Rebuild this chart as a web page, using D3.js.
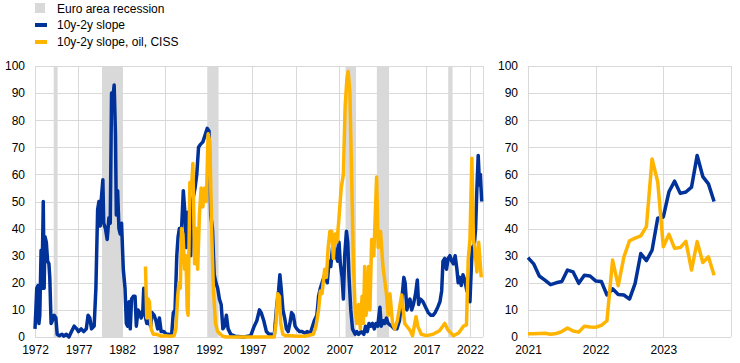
<!DOCTYPE html>
<meta charset="utf-8">
<style>
body { margin: 0; background: #fff; font-family: Arial, "Liberation Sans", sans-serif; }
svg { font-size: 12px; }
.grid line { stroke: #d9d9d9; stroke-width: 1; shape-rendering: crispEdges; }
.tick text { fill: #000; }
</style>
<body>
<svg width="740" height="363"></svg>
<script src="https://d3js.org/d3.v7.min.js"></script>
<script>
// long history (left panel), x in decimal years
var slopeYears = [1972.0,1972.1,1972.2,1972.35,1972.45,1972.55,1972.7,1972.8,1972.95,1973.05,1973.15,1973.3,1973.45,1973.6,1973.7,1973.85,1974.0,1974.2,1974.4,1974.55,1974.8,1975.1,1975.3,1975.6,1975.9,1976.2,1976.5,1976.8,1977.0,1977.3,1977.6,1977.9,1978.1,1978.3,1978.5,1978.8,1979.0,1979.2,1979.35,1979.5,1979.6,1979.8,1979.9,1980.1,1980.3,1980.5,1980.65,1980.8,1980.95,1981.1,1981.25,1981.35,1981.5,1981.65,1981.8,1981.95,1982.15,1982.35,1982.5,1982.65,1982.8,1982.95,1983.1,1983.3,1983.5,1983.65,1983.85,1984.0,1984.2,1984.4,1984.5,1984.65,1984.85,1985.0,1985.3,1985.45,1985.7,1985.9,1986.1,1986.3,1986.5,1986.8,1987.1,1987.4,1987.7,1987.9,1988.1,1988.3,1988.45,1988.6,1988.85,1989.05,1989.25,1989.4,1989.55,1989.7,1989.9,1990.1,1990.4,1990.6,1990.8,1991.0,1991.3,1991.6,1991.8,1992.0,1992.2,1992.4,1992.6,1992.8,1993.0,1993.2,1993.4,1993.6,1993.8,1994.0,1994.2,1994.5,1995.0,1996.0,1996.8,1997.2,1997.5,1997.8,1998.0,1998.3,1998.6,1998.9,1999.2,1999.5,1999.8,2000.0,2000.15,2000.3,2000.5,2000.7,2000.9,2001.1,2001.3,2001.5,2001.7,2001.9,2002.1,2002.4,2002.7,2003.0,2003.3,2003.6,2003.9,2004.1,2004.4,2004.6,2004.8,2005.0,2005.3,2005.6,2005.8,2006.0,2006.2,2006.4,2006.6,2006.8,2006.95,2007.1,2007.3,2007.45,2007.6,2007.8,2007.95,2008.1,2008.3,2008.5,2008.8,2009.0,2009.2,2009.5,2009.8,2010.0,2010.2,2010.4,2010.6,2010.8,2011.0,2011.2,2011.4,2011.65,2011.8,2012.0,2012.2,2012.4,2012.6,2012.8,2013.0,2013.3,2013.6,2013.9,2014.2,2014.4,2014.55,2014.75,2014.9,2015.1,2015.3,2015.5,2015.75,2015.95,2016.1,2016.3,2016.6,2016.9,2017.2,2017.5,2017.75,2018.0,2018.3,2018.55,2018.75,2018.9,2019.1,2019.3,2019.5,2019.7,2019.9,2020.1,2020.3,2020.5,2020.65,2020.85,2021.0,2021.2,2021.4,2021.65,2021.85,2022.0,2022.25,2022.5,2022.65,2022.8,2022.95,2023.1,2023.2,2023.35];
var slopeValues = [3,10,18,19,5,8,32,18,50,18,37,35,28,27,22,5,6,8,7,1,0.5,1,0.3,1,0,2,4,3,2,3,2,3,8,7,3,4,18,47,50,41,50,58,42,40,36,44,42,90,88,93,75,45,54,40,38,42,25,18,5,4,13,3,14,15,15,4,10,9,7,10,18,8,5,6,4,9,8,6,3,7,2,2,1,1,0.5,9,10,30,37,40,40,54,45,33,46,42,30,50,55,60,70,71,72,75,77,76,45,40,23,20,18,14,12,3,4,8,3,1,0.3,0,0.5,4,6,10,9,6,2,1,1,0.5,12,17,23,18,10,7,3,2,5,9,8,4,3,2,2,1.5,2,1,4,6,8,15,18,20,23,20,28,26,33,35,30,28,35,27,22,14,30,39,35,22,10,3,1,2,1,2,1,4,2,5,4,5,3,5,4,11,4,6,5,7,5,4.5,4,3,3,6,15,22,20,10,12,14,10,12,16,21,12,14,13,11,9,8,8,9,11,13,17,28,29,25,29,30,28,27,30,25,20,22,19,23,21,17,16,13,33,34,40,55,67,56,60,50];

var oilYears = [1984.7,1984.85,1985.0,1985.15,1985.35,1985.6,1986.0,1986.5,1987.0,1987.5,1988.0,1988.2,1988.4,1988.55,1988.7,1988.85,1989.0,1989.2,1989.35,1989.5,1989.6,1989.8,1990.0,1990.15,1990.35,1990.5,1990.7,1990.9,1991.1,1991.3,1991.5,1991.7,1991.9,1992.1,1992.3,1992.5,1992.75,1993.0,1993.3,1993.6,1994.0,1999.5,1999.7,1999.9,2000.1,2000.25,2000.5,2000.8,2001.5,2002.0,2003.0,2004.0,2004.3,2004.6,2004.8,2005.0,2005.3,2005.5,2005.7,2005.9,2006.1,2006.3,2006.5,2006.7,2006.9,2007.2,2007.45,2007.65,2007.85,2008.0,2008.2,2008.4,2008.6,2008.8,2009.0,2009.2,2009.4,2009.6,2009.75,2009.9,2010.05,2010.2,2010.35,2010.5,2010.7,2010.95,2011.27,2011.45,2011.72,2012.0,2012.4,2012.6,2012.8,2013.1,2013.35,2013.65,2014.15,2014.5,2015.1,2015.4,2015.8,2016.0,2016.4,2017.0,2017.75,2018.5,2019.1,2019.5,2020.1,2020.7,2021.25,2021.6,2021.8,2022.0,2022.22,2022.4,2022.55,2022.8,2023.0,2023.3];
var oilValues = [26,7,14,13,3,1,1,0.3,0.5,0.3,0.5,3,15,20,18,40,38,25,30,10,8,57,55,64,27,40,25,45,55,48,55,50,75,72,40,18,5,2,1,0.3,0,0,5,16,15,5,1,0.5,0.5,0.3,0.3,1,4,10,17,16,25,22,33,39,39,29,38,35,42,55,60,85,95,98,90,59,28,10,5,12,3,15,5,26,8,12,26,10,36,30,59,33,39,26,16,8,16,5,3,6,15.5,5,2.5,0.5,7.5,4,1,0.5,1,2.3,5,2.5,0.5,1.5,4,4.5,28.5,36,66,36,33,24,35,22];

var recessions = [[1974.15,1974.6],[1979.7,1982.05],[1991.8,1993.1],[2007.7,2008.9],[2011.3,2012.7],[2019.5,2020.0]];
var leftTicks = [1972,1977,1982,1987,1992,1997,2002,2007,2012,2017,2022];

// recent zoom (right panel), monthly from Jan 2021
var recentMonths = d3.range(34);
var recentSlope = [29.3,27,22.5,21,19.3,20,20.5,24.7,24,19.8,22.8,22.5,20.7,20.5,15.5,17.8,15.7,15.5,14,19.8,30.8,28.2,32,43.8,44.3,53.6,57.5,53,53.5,55.3,67,59.2,56.5,50];
var recentOil = [1.2,1.2,1.3,1.4,1.0,1.3,2.0,3.3,2.2,1.8,4.0,3.7,3.6,4.3,6.0,28.4,18.9,29.5,35.5,36.5,37.3,40.7,65.7,57.3,33.3,37.9,32.7,33,35.3,24.7,35.2,27.5,29.6,22.8];
var rightTicks = [0, 12, 24];
var rightTickLabels = ["2021", "2022", "2023"];

var seriesNames = ["Euro area recession", "10y-2y slope", "10y-2y slope, oil, CISS"];
var BLUE = "#003299", ORANGE = "#ffb400", GREY = "#d9d9d9";
var LW = 3.5;

var svg = d3.select("svg");

var y = d3.scaleLinear().domain([0, 100]).range([337, 66]);
var xL = d3.scaleLinear().domain([1972, 2023.5]).range([35, 483]);
var xR = d3.scaleLinear().domain([0, 36]).range([528, 731]);

function panel(x, xTicks, xFormat) {
    var g = svg.append("g");
    var grid = g.append("g").attr("class", "grid");
    grid.selectAll(".h").data(d3.range(0, 101, 10)).enter().append("line")
        .attr("x1", x.range()[0]).attr("x2", x.range()[1])
        .attr("y1", function(d) { return Math.round(y(d)) + 0.5; })
        .attr("y2", function(d) { return Math.round(y(d)) + 0.5; });
    grid.selectAll(".v").data(xTicks.concat([x.domain()[1]])).enter().append("line")
        .attr("x1", function(d) { return Math.round(x(d)) + 0.5; })
        .attr("x2", function(d) { return Math.round(x(d)) + 0.5; })
        .attr("y1", y(100)).attr("y2", y(0));

    g.append("g").attr("transform", "translate(" + (x.range()[0] - 10) + ",0)")
        .call(d3.axisLeft(y).tickValues(d3.range(0, 101, 10)).tickSize(0).tickPadding(0))
        .call(function(a) { a.select(".domain").remove(); })
        .selectAll("text").attr("font-size", 12).attr("font-family", "Arial, Liberation Sans, sans-serif");

    g.append("g").attr("transform", "translate(0,345)")
        .call(d3.axisBottom(x).tickValues(xTicks).tickFormat(xFormat).tickSize(0).tickPadding(0))
        .call(function(a) { a.select(".domain").remove(); })
        .selectAll("text").attr("dy", "0.71em").attr("font-size", 12).attr("font-family", "Arial, Liberation Sans, sans-serif");
    return g;
}

// left panel
var gl = svg.append("g");
gl.selectAll("rect").data(recessions).enter().append("rect")
    .attr("x", function(d) { return xL(d[0]); })
    .attr("width", function(d) { return xL(d[1]) - xL(d[0]); })
    .attr("y", y(100)).attr("height", y(0) - y(100))
    .attr("fill", GREY);
panel(xL, leftTicks, d3.format("d"));

var lineL = d3.line().x(function(d) { return xL(d[0]); }).y(function(d) { return y(d[1]); });
svg.append("path").datum(d3.zip(slopeYears, slopeValues))
    .attr("d", lineL).attr("fill", "none").attr("stroke", BLUE).attr("stroke-width", LW).attr("stroke-linejoin", "round");
svg.append("path").datum(d3.zip(oilYears, oilValues))
    .attr("d", lineL).attr("fill", "none").attr("stroke", ORANGE).attr("stroke-width", LW).attr("stroke-linejoin", "round");

// right panel
panel(xR, rightTicks, function(d, i) { return rightTickLabels[i]; });
var lineR = d3.line().x(function(d) { return xR(d[0]); }).y(function(d) { return y(d[1]); });
svg.append("path").datum(d3.zip(recentMonths, recentSlope))
    .attr("d", lineR).attr("fill", "none").attr("stroke", BLUE).attr("stroke-width", LW).attr("stroke-linejoin", "round");
svg.append("path").datum(d3.zip(recentMonths, recentOil))
    .attr("d", lineR).attr("fill", "none").attr("stroke", ORANGE).attr("stroke-width", LW).attr("stroke-linejoin", "round");

// legend
var legend = svg.append("g");
legend.append("rect").attr("x", 35).attr("y", 3).attr("width", 10).attr("height", 10).attr("fill", GREY);
legend.append("rect").attr("x", 35).attr("y", 23).attr("width", 12).attr("height", 4).attr("fill", BLUE);
legend.append("rect").attr("x", 35).attr("y", 40).attr("width", 12).attr("height", 4).attr("fill", ORANGE);
legend.selectAll("text").data(seriesNames).enter().append("text")
    .attr("x", 57).attr("y", function(d, i) { return 12.5 + i * 16.7; })
    .attr("font-size", 12).attr("fill", "#000")
    .text(function(d) { return d; });
</script>
</body>
